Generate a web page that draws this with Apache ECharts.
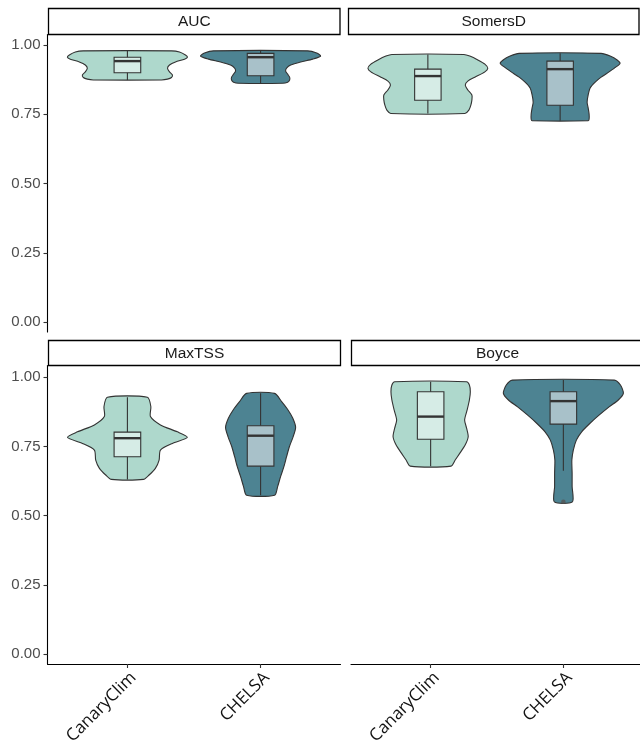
<!DOCTYPE html>
<html>
<head>
<meta charset="utf-8">
<script src="https://cdn.jsdelivr.net/npm/echarts@6/dist/echarts.min.js"></script>
<style>html,body{margin:0;padding:0;background:#fff}#c{width:640px;height:740px}</style>
</head>
<body>
<div id="c"></div>
<script>
// ---- data ----
const panels = ['AUC', 'SomersD', 'MaxTSS', 'Boyce'];
const models = ['CanaryClim', 'CHELSA'];
const yTicks = [0, 0.25, 0.5, 0.75, 1];

// violin outlines: [value, half-width in category units], top to bottom
const aucCanaryViolin = [[0.979,0.331],[0.975,0.391],[0.964,0.436],[0.956,0.451],[0.949,0.429],[0.939,0.361],[0.928,0.316],[0.916,0.301],[0.903,0.316],[0.892,0.338],[0.883,0.331],[0.877,0.301],[0.874,0.256]];
const aucChelsaViolin = [[0.979,0.353],[0.971,0.421],[0.960,0.451],[0.949,0.391],[0.939,0.301],[0.928,0.226],[0.917,0.195],[0.906,0.188],[0.895,0.203],[0.884,0.218],[0.874,0.218],[0.866,0.203],[0.862,0.165]];
const somCanaryViolin = [[0.966,0.272],[0.960,0.317],[0.946,0.378],[0.931,0.431],[0.916,0.453],[0.903,0.431],[0.884,0.355],[0.870,0.302],[0.856,0.283],[0.838,0.302],[0.820,0.333],[0.802,0.333],[0.783,0.325],[0.765,0.310],[0.753,0.280]];
const somChelsaViolin = [[0.970,0.310],[0.960,0.378],[0.946,0.431],[0.934,0.453],[0.921,0.423],[0.903,0.370],[0.884,0.310],[0.866,0.265],[0.845,0.227],[0.820,0.212],[0.794,0.204],[0.773,0.212],[0.751,0.219],[0.733,0.219],[0.727,0.212]];
const tssCanaryViolin = [[0.928,0.150],[0.894,0.176],[0.858,0.173],[0.828,0.248],[0.803,0.375],[0.783,0.450],[0.761,0.338],[0.737,0.248],[0.701,0.238],[0.671,0.210],[0.647,0.163],[0.631,0.120]];
const tssChelsaViolin = [[0.942,0.105],[0.912,0.158],[0.882,0.206],[0.852,0.242],[0.819,0.263],[0.785,0.244],[0.749,0.216],[0.713,0.195],[0.677,0.175],[0.641,0.150],[0.605,0.128],[0.574,0.105]];
const boyCanaryViolin = [[0.984,0.271],[0.972,0.292],[0.948,0.299],[0.918,0.292],[0.882,0.275],[0.846,0.256],[0.816,0.271],[0.785,0.283],[0.755,0.260],[0.725,0.219],[0.701,0.185],[0.679,0.154]];
const boyChelsaViolin = [[0.990,0.384],[0.972,0.430],[0.942,0.452],[0.918,0.414],[0.894,0.347],[0.864,0.271],[0.834,0.201],[0.803,0.138],[0.773,0.098],[0.737,0.075],[0.701,0.064],[0.653,0.066],[0.605,0.066],[0.550,0.068]];

// boxes: [lower whisker, Q1, median, Q3, upper whisker]
const aucCanaryBox = [0.874, 0.900, 0.942, 0.956, 0.979];
const aucChelsaBox = [0.862, 0.889, 0.956, 0.970, 0.979];
const somCanaryBox = [0.753, 0.801, 0.888, 0.913, 0.966];
const somChelsaBox = [0.727, 0.783, 0.913, 0.942, 0.970];
const tssCanaryBox = [0.631, 0.713, 0.780, 0.802, 0.928];
const tssChelsaBox = [0.574, 0.679, 0.789, 0.825, 0.942];
const boyCanaryBox = [0.679, 0.776, 0.858, 0.948, 0.984];
const boyChelsaBox = [0.662, 0.831, 0.914, 0.948, 0.990];
const boyChelsaOutliers = [0.550];

// ---- layout / style ----
const violinFill = ['#AED8CC', '#4D8392'];
const boxFill = ['#D6ECE6', '#A8C1C9'];
const lineCol = '#333333';
const grids = [
  {left: 47.5, top: 34.5, width: 293, height: 297.5},
  {left: 348.5, top: 34.5, width: 291, height: 297.5},
  {left: 47.5, top: 365.5, width: 293, height: 298.5},
  {left: 351, top: 365.5, width: 292, height: 298.5}
];
const yRange = [[-0.0349, 1.0379], [-0.0349, 1.0379], [-0.0361, 1.0427], [-0.0361, 1.0427]];
const strips = [
  {x: 48.5, y: 8.5, w: 291.5, h: 26},
  {x: 348.5, y: 8.5, w: 290.5, h: 26},
  {x: 48.5, y: 340.5, w: 292, h: 25},
  {x: 351.5, y: 340.5, w: 292, h: 25}
];

const violins = [[aucCanaryViolin, aucChelsaViolin],[somCanaryViolin, somChelsaViolin],[tssCanaryViolin, tssChelsaViolin],[boyCanaryViolin, boyChelsaViolin]];
const boxes = [[aucCanaryBox, aucChelsaBox],[somCanaryBox, somChelsaBox],[tssCanaryBox, tssChelsaBox],[boyCanaryBox, boyChelsaBox]];

const boxHalf = 0.1;
const series = [];
panels.forEach((p, gi) => {
  models.forEach((m, mi) => {
    const xPos = mi + 1;
    const prof = violins[gi][mi];
    series.push({
      type: 'custom', xAxisIndex: gi, yAxisIndex: gi, clip: false, z: 2,
      data: prof.map(d => [xPos, d[0], d[1]]),
      renderItem: (params, api) => {
        if (params.dataIndex !== 0) return null;
        const left = prof.map(d => api.coord([xPos - d[1], d[0]]));
        const right = prof.map(d => api.coord([xPos + d[1], d[0]])).reverse();
        return {type: 'polygon', shape: {points: left.concat(right), smooth: 0.25},
          style: {fill: violinFill[mi], stroke: lineCol, lineWidth: 1.1}};
      }
    });
    series.push({
      type: 'custom', xAxisIndex: gi, yAxisIndex: gi, clip: false, z: 3,
      data: [[xPos].concat(boxes[gi][mi])],
      renderItem: (params, api) => {
        const x = api.value(0);
        const lo = api.coord([x, api.value(1)]);
        const q1 = api.coord([x - boxHalf, api.value(2)]);
        const med = api.value(3);
        const q3 = api.coord([x + boxHalf, api.value(4)]);
        const hi = api.coord([x, api.value(5)]);
        const mL = api.coord([x - boxHalf, med]);
        const mR = api.coord([x + boxHalf, med]);
        return {type: 'group', children: [
          {type: 'line', shape: {x1: lo[0], y1: lo[1], x2: hi[0], y2: hi[1]}, style: {stroke: lineCol, lineWidth: 1.1}},
          {type: 'rect', shape: {x: q1[0], y: q3[1], width: q3[0] - q1[0], height: q1[1] - q3[1]},
            style: {fill: boxFill[mi], stroke: lineCol, lineWidth: 1.1}},
          {type: 'line', shape: {x1: mL[0], y1: mL[1], x2: mR[0], y2: mR[1]}, style: {stroke: lineCol, lineWidth: 2.4}}
        ]};
      }
    });
  });
});
series.push({
  type: 'scatter', xAxisIndex: 3, yAxisIndex: 3, z: 4, symbolSize: 4.5,
  itemStyle: {color: '#555555'},
  data: boyChelsaOutliers.map(v => [2, v])
});

const xAxis = grids.map((g, gi) => ({
  type: 'value', gridIndex: gi, min: 0.4, max: 2.6,
  show: true,
  axisLine: {show: gi >= 2, onZero: false, lineStyle: {color: '#000', width: 1.1}},
  axisTick: {show: gi >= 2, customValues: [1, 2], length: 4, lineStyle: {color: lineCol, width: 1.1}},
  axisLabel: {show: gi >= 2, customValues: [1, 2], formatter: v => models[Math.round(v) - 1],
    rotate: 45, align: 'right', verticalAlign: 'top', fontSize: 17, color: '#111',
    fontFamily: 'Open Sans', margin: 5},
  splitLine: {show: false}
}));
const yAxis = grids.map((g, gi) => ({
  type: 'value', gridIndex: gi, min: yRange[gi][0], max: yRange[gi][1],
  show: gi % 2 === 0,
  axisLine: {show: true, onZero: false, lineStyle: {color: '#000', width: 1.1}},
  axisTick: {show: true, customValues: yTicks, length: 4, lineStyle: {color: lineCol, width: 1.1}},
  axisLabel: {show: true, customValues: yTicks, formatter: v => v.toFixed(2),
    fontSize: 15, color: '#4D4D4D', fontFamily: 'Liberation Sans', margin: 7},
  splitLine: {show: false}
}));

const graphic = [];
strips.forEach((s, i) => {
  graphic.push({type: 'rect', shape: {x: s.x, y: s.y, width: s.w, height: s.h},
    style: {fill: '#fff', stroke: '#000', lineWidth: 1.3}, z: 10});
  graphic.push({type: 'text', x: s.x + s.w / 2, y: s.y + s.h / 2 + 0.5, z: 11,
    style: {text: panels[i], fill: '#1A1A1A', font: '15.5px "Liberation Sans"', align: 'center', verticalAlign: 'middle'}});
});

const chart = echarts.init(document.getElementById('c'), null, {renderer: 'canvas'});
chart.setOption({
  animation: false,
  backgroundColor: '#fff',
  grid: grids.map(g => Object.assign({containLabel: false, outerBoundsMode: 'none'}, g)),
  xAxis, yAxis, series, graphic
});
</script>
</body>
</html>
